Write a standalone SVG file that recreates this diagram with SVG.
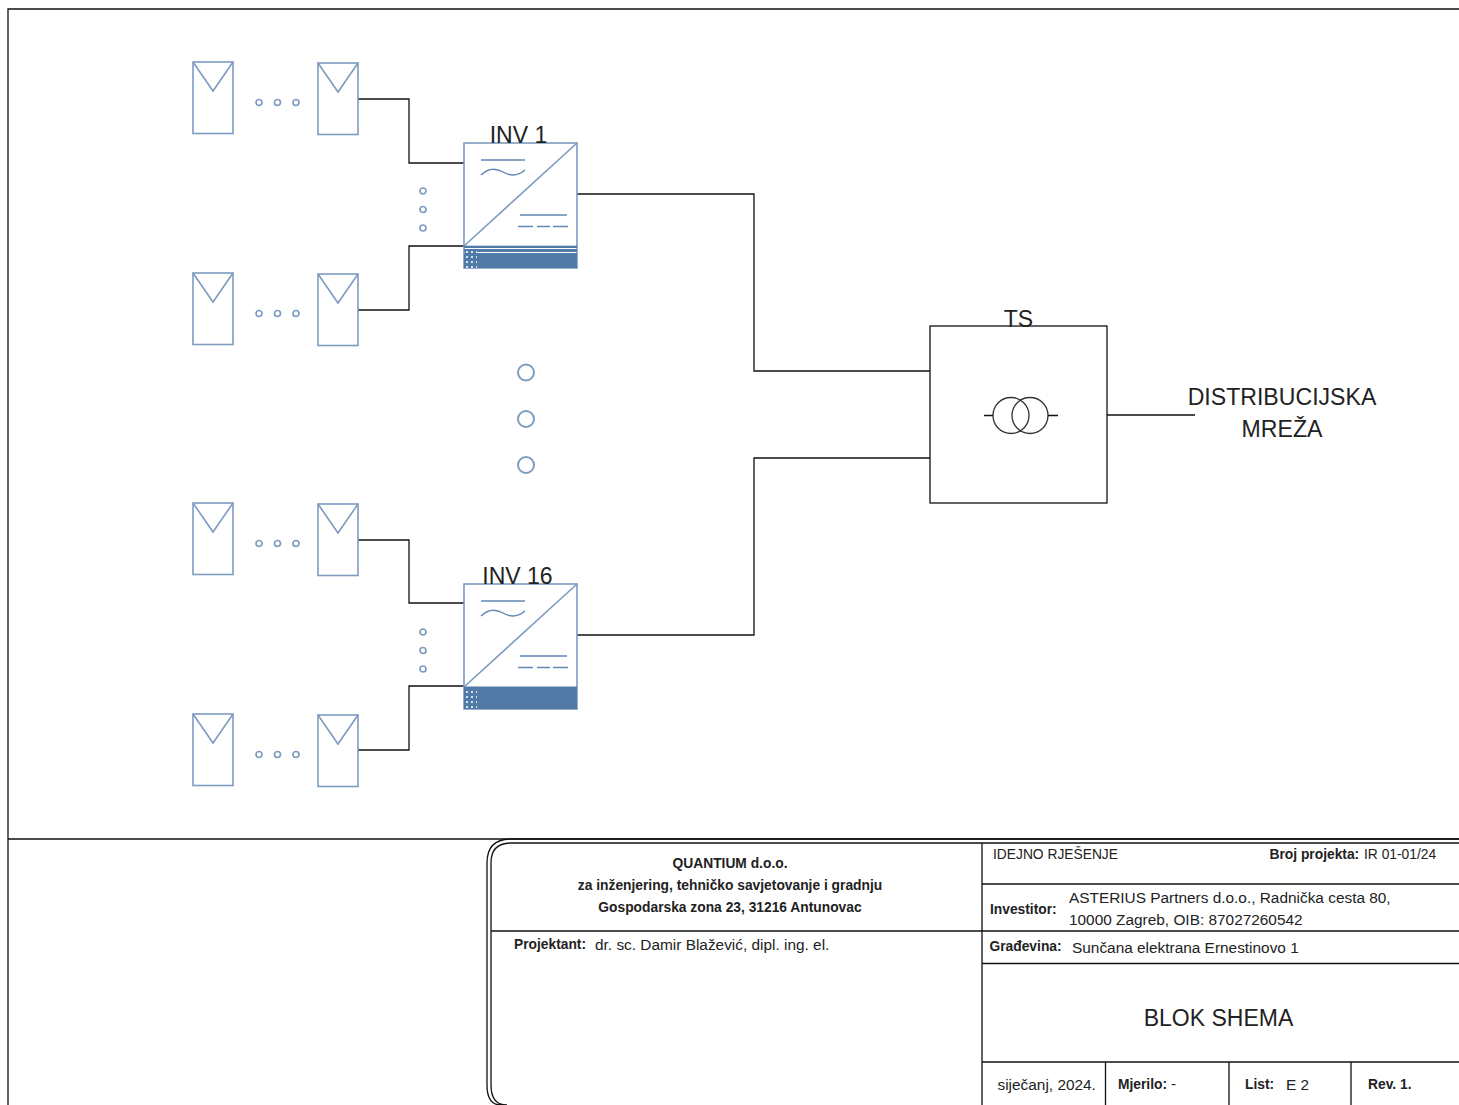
<svg xmlns="http://www.w3.org/2000/svg" width="1459" height="1105" viewBox="0 0 1459 1105">
<style>
.k{fill:none;stroke:#111;stroke-width:1.3}
.b{fill:none;stroke:#7d9cc0;stroke-width:1.6}
.t{fill:none;stroke:#6088b4;stroke-width:1.4}
.d{fill:#fff;stroke:#7d9cc0;stroke-width:1.7}
text{font-family:"Liberation Sans",Arial,sans-serif;fill:#222}
.l{font-size:23px}
.h{font-size:23.100px}
.bd{font-weight:bold;font-size:13.800px}
.n{font-size:15.400px}
.c{font-size:13.800px}
.m{text-anchor:middle}
</style>
<defs>
<g id="panel"><rect class="b" x="0" y="0" width="40" height="71.500"/><path class="b" d="M0 0L20 29L40 0"/></g>
<g id="dots"><circle class="d" cx="0" cy="0" r="3"/><circle class="d" cx="18.500" cy="0" r="3"/><circle class="d" cx="37" cy="0" r="3"/></g>
<g id="vdots"><circle class="d" cx="0" cy="0" r="3"/><circle class="d" cx="0" cy="18.500" r="3"/><circle class="d" cx="0" cy="37" r="3"/></g>
<pattern id="speck" width="5" height="5" patternUnits="userSpaceOnUse"><rect width="5" height="5" fill="#527aa6"/><rect x="1" y="1" width="2" height="2" fill="#d5e0ec"/></pattern>
<g id="inv"><rect x="0" y="0" width="113" height="125" fill="#fff" stroke="#7d9cc0" stroke-width="1.6"/><path class="b" d="M0 103L113 0"/><path class="t" d="M17 17H61M17 32C24 25 32 25 39 29C46 33 54 33 61 27M56 72H103M54 83.500H69M73 83.500H86M89 83.500H104"/></g>
</defs>
<rect width="1459" height="1105" fill="#fff"/>
<g id="frame">
<path class="k" d="M1459 9H8V1105M8 839H1459"/>
</g>
<g id="connectors">
<path class="k" d="M358 99H409V163H464M358 310H409V246H464M577 194H754V371H930M358 540H409V603H464M358 750H409V686H464M577 635H754V458H930M1107 415H1195"/>
</g>
<g id="pv-1"><use href="#panel" x="193" y="62"/><use href="#dots" x="259" y="102.500"/><use href="#panel" x="318" y="63"/></g>
<g id="pv-2"><use href="#panel" x="193" y="273"/><use href="#dots" x="259" y="313.500"/><use href="#panel" x="318" y="274"/></g>
<g id="pv-3"><use href="#panel" x="193" y="503"/><use href="#dots" x="259" y="543.500"/><use href="#panel" x="318" y="504"/></g>
<g id="pv-4"><use href="#panel" x="193" y="714"/><use href="#dots" x="259" y="754.500"/><use href="#panel" x="318" y="715"/></g>
<g id="inv-1">
<use href="#inv" x="464" y="143"/>
<rect x="464" y="245.700" width="113" height="2.300" fill="#527aa6"/>
<rect x="464" y="249" width="113" height="3" fill="#527aa6"/>
<rect x="464" y="253" width="113" height="15" fill="#527aa6"/>
<rect x="465" y="250" width="12" height="18" fill="url(#speck)"/>
<text class="l" x="518.500" y="143" text-anchor="middle">INV 1</text>
<use href="#vdots" x="423" y="191"/>
</g>
<g id="more"><circle cx="526" cy="372.500" r="8" fill="#fff" stroke="#7d9cc0" stroke-width="2"/><circle cx="526" cy="419" r="8" fill="#fff" stroke="#7d9cc0" stroke-width="2"/><circle cx="526" cy="465" r="8" fill="#fff" stroke="#7d9cc0" stroke-width="2"/></g>
<g id="inv-16">
<use href="#inv" x="464" y="584"/>
<rect x="464" y="686.500" width="113" height="22.500" fill="#527aa6"/>
<rect x="465" y="688" width="12" height="21" fill="url(#speck)"/>
<text class="l" x="517.500" y="584" text-anchor="middle">INV 16</text>
<use href="#vdots" x="423" y="632"/>
</g>
<g id="ts">
<rect class="k" x="930" y="326" width="177" height="177"/>
<circle cx="1011" cy="415.500" r="18" fill="none" stroke="#333" stroke-width="1.300"/>
<circle cx="1030" cy="415.500" r="18" fill="none" stroke="#333" stroke-width="1.300"/>
<path class="k" d="M984 415.500H993M1048 415.500H1058"/>
<text class="l" x="1018.500" y="327" text-anchor="middle">TS</text>
</g>
<g id="grid">
<text class="h" x="1282" y="405" text-anchor="middle">DISTRIBUCIJSKA</text>
<text class="h" x="1282" y="437" text-anchor="middle">MREŽA</text>
</g>
<g id="title-block">
<path class="k" d="M1459 843H511Q491 843 491 863V1085Q491 1105 507 1105M511 839H1459M511 839Q487 839 487 863V1085Q487 1105 501 1105"/>
<path class="k" d="M491 931H1459M982 843V1105M982 884H1459M982 963.500H1459M982 1062H1459M1105.500 1062V1105M1229 1062V1105M1351 1062V1105"/>
<text class="bd m" x="730" y="868">QUANTIUM d.o.o.</text>
<text class="bd m" x="730" y="890">za inženjering, tehničko savjetovanje i gradnju</text>
<text class="bd m" x="730" y="912">Gospodarska zona 23, 31216 Antunovac</text>
<text class="bd" x="514" y="949">Projektant:</text>
<text class="n" x="595" y="950">dr. sc. Damir Blažević, dipl. ing. el.</text>
<text class="c" x="993" y="858.500">IDEJNO RJEŠENJE</text>
<text class="bd" x="1269.500" y="858.500">Broj projekta:</text>
<text class="c" x="1364" y="858.500">IR 01-01/24</text>
<text class="bd" x="990" y="913.500">Investitor:</text>
<text class="n" x="1069" y="903">ASTERIUS Partners d.o.o., Radnička cesta 80,</text>
<text class="n" x="1069" y="924.500">10000 Zagreb, OIB: 87027260542</text>
<text class="bd" x="989.500" y="951">Građevina:</text>
<text class="n" x="1072" y="952.500">Sunčana elektrana Ernestinovo 1</text>
<text x="1218.500" y="1026" font-size="23" text-anchor="middle">BLOK SHEMA</text>
<text class="n" x="997.500" y="1090">siječanj, 2024.</text>
<text class="bd" x="1118" y="1089">Mjerilo:</text>
<text class="n" x="1171" y="1089">-</text>
<text class="bd" x="1245" y="1089">List:</text>
<text class="n" x="1286" y="1090">E 2</text>
<text class="bd" x="1368" y="1089">Rev. 1.</text>
</g>
</svg>
